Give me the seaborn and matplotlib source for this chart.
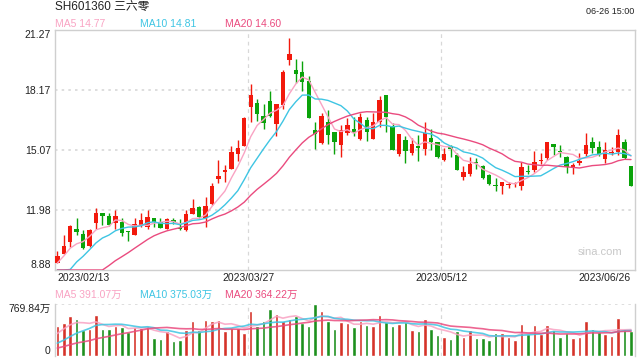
import numpy as np
import pandas as pd
import matplotlib
matplotlib.use("Agg")
import matplotlib.pyplot as plt
import seaborn as sns

# SH601360 daily k-line, 2023-02-13 .. 2023-06-26
title = "SH601360 三六零"
stamp = "06-26 15:00"

opens = [9.26, 9.71, 10.33, 10.98, 10.74, 10.12, 11.32, 11.82, 11.67, 11.32,
         11.37, 10.89, 10.70, 11.15, 11.12, 11.55, 11.36, 11.00, 11.44, 11.01,
         10.93, 11.79, 12.11, 11.55, 12.29, 13.60, 13.96, 14.11, 14.87, 15.28,
         17.31, 17.50, 16.83, 17.59, 16.43, 17.38, 19.72, 19.20, 19.10, 18.65,
         16.12, 15.42, 16.54, 16.00, 15.35, 15.94, 16.16, 15.64, 16.62, 15.66,
         16.52, 17.91, 16.33, 14.89, 15.59, 14.92, 15.28, 15.14, 15.69, 15.51,
         14.56, 15.23, 14.82, 13.70, 13.85, 14.47, 14.27, 13.78, 13.27, 13.23,
         13.27, 13.30, 13.23, 13.99, 14.03, 14.51, 14.64, 15.38, 15.02, 14.71,
         14.21, 14.42, 14.89, 15.49, 15.23, 14.63, 14.92, 14.95, 15.47, 14.25]
highs = [9.88, 10.69, 11.20, 11.58, 10.94, 11.01, 12.10, 11.82, 11.82, 11.98,
         11.55, 10.89, 11.58, 11.82, 11.98, 11.55, 11.55, 11.55, 11.55, 11.51,
         11.98, 12.55, 12.18, 12.67, 13.35, 14.56, 14.30, 15.28, 15.59, 16.76,
         18.48, 17.71, 17.45, 18.12, 17.45, 19.20, 20.86, 19.76, 19.69, 18.90,
         16.52, 16.99, 17.14, 16.00, 16.35, 16.73, 16.76, 17.00, 16.76, 16.97,
         17.88, 17.91, 16.49, 15.90, 15.80, 15.71, 15.85, 16.50, 16.18, 15.51,
         15.16, 15.33, 14.90, 14.23, 14.73, 14.64, 14.30, 13.84, 13.63, 13.44,
         13.44, 13.44, 14.47, 14.30, 15.01, 14.90, 15.51, 15.40, 15.33, 14.77,
         14.39, 14.90, 15.97, 15.75, 15.54, 15.47, 15.25, 16.16, 15.64, 14.25]
lows = [9.22, 9.71, 10.08, 10.70, 9.96, 10.05, 11.00, 11.20, 11.15, 11.01,
        10.64, 10.38, 10.67, 11.12, 11.00, 11.12, 11.05, 10.98, 11.25, 10.96,
        10.89, 11.79, 11.55, 11.08, 12.24, 13.35, 13.44, 14.08, 14.52, 15.28,
        16.54, 16.59, 16.14, 16.76, 15.82, 17.17, 19.46, 18.52, 18.14, 16.74,
        15.14, 15.37, 15.37, 14.87, 14.73, 15.85, 15.80, 15.59, 15.54, 15.66,
        16.26, 16.02, 15.09, 14.77, 14.42, 14.82, 14.52, 14.82, 15.07, 14.68,
        14.51, 14.70, 14.04, 13.54, 13.75, 14.11, 13.56, 13.29, 12.98, 12.80,
        13.10, 13.15, 13.01, 13.84, 13.96, 14.35, 14.56, 14.82, 14.73, 13.87,
        13.84, 14.30, 14.77, 14.90, 14.77, 14.42, 14.82, 14.80, 14.59, 13.23]
closes = [9.60, 10.12, 11.15, 10.84, 10.02, 10.94, 11.82, 11.68, 11.20, 11.67,
          10.81, 10.82, 11.25, 11.44, 11.60, 11.37, 11.07, 11.50, 11.36, 10.98,
          11.77, 12.06, 11.60, 12.18, 13.22, 13.73, 14.04, 14.97, 15.18, 16.71,
          17.91, 16.95, 16.49, 16.83, 17.45, 19.10, 20.03, 19.02, 18.60, 16.74,
          15.88, 16.85, 15.83, 15.49, 16.09, 16.35, 15.94, 16.76, 16.02, 16.52,
          17.66, 16.76, 15.09, 15.90, 15.04, 15.38, 15.20, 15.95, 15.51, 14.73,
          14.87, 15.11, 14.06, 13.94, 14.35, 14.40, 13.65, 13.32, 13.20, 13.42,
          13.32, 13.35, 14.21, 13.94, 14.46, 14.56, 15.49, 15.25, 14.97, 14.21,
          14.30, 14.51, 15.33, 15.16, 14.82, 15.06, 14.99, 15.85, 14.64, 13.23]
# volume, 万股
volumes = [446.5, 492.7, 585.1, 554.3, 384.9, 400.3, 600.5, 400.3, 400.3, 446.5,
           431.1, 354.1, 431.1, 415.7, 446.5, 261.7, 246.4, 369.5, 215.6, 231.0,
           384.9, 523.5, 384.9, 538.9, 523.5, 538.9, 369.5, 415.7, 415.7, 338.7,
           662.1, 446.5, 523.5, 692.9, 615.9, 523.5, 554.3, 585.1, 492.7, 446.5,
           769.84, 662.1, 523.5, 400.3, 508.1, 492.7, 431.1, 523.5, 461.9, 446.5,
           600.5, 508.1, 446.5, 477.3, 508.1, 384.9, 369.5, 554.3, 400.3, 307.9,
           277.1, 246.4, 369.5, 277.1, 384.9, 261.7, 261.7, 231.0, 338.7, 338.7,
           277.1, 231.0, 477.3, 323.3, 461.9, 323.3, 461.9, 384.9, 277.1, 338.7,
           261.7, 277.1, 523.5, 400.3, 354.1, 323.3, 292.5, 569.7, 400.3, 369.5]

# sessions before the window, only used to seed the moving averages
prior_closes = [6.50, 6.55, 6.48, 6.52, 6.50, 6.45, 6.50, 6.60, 6.65, 6.70,
                6.60, 6.65, 6.95, 7.10, 7.55, 8.31, 9.14, 9.70, 9.45]
prior_volumes = [46, 46, 46, 46, 46, 46, 46, 46, 46, 46,
                 47, 47, 47, 47, 47, 150, 280, 390, 400]

date_ticks = [0, 30, 60, 89]
date_labels = ["2023/02/13", "2023/03/27", "2023/05/12", "2023/06/26"]
price_ticks = [8.88, 11.98, 15.07, 18.17, 21.27]
vol_top = 769.84
ma_windows = [5, 10, 20]
ma_labels = ["MA5 14.77", "MA10 14.81", "MA20 14.60"]
vol_ma_labels = ["MA5 391.07万", "MA10 375.03万", "MA20 364.22万"]

ma_colors = ["#f9a3c3", "#3ec5e3", "#ea4b7f"]
up_color = "#f2190c"
down_color = "#0aa30a"
grid_color = "#d8d8d8"
frame_color = "#cfcfcf"

df = pd.DataFrame({"open": opens, "high": highs, "low": lows,
                   "close": closes, "volume": volumes})
df["idx"] = np.arange(len(df))
df["dir"] = np.where(df["close"] >= df["open"], "up", "down")

n_prior = len(prior_closes)
all_close = pd.Series(prior_closes + closes)
all_vol = pd.Series(prior_volumes + volumes)
for w in ma_windows:
    df[f"ma{w}"] = all_close.rolling(w).mean().iloc[n_prior:].to_numpy()
    df[f"vma{w}"] = all_vol.rolling(w).mean().iloc[n_prior:].to_numpy()

sns.set_style("white")
plt.rcParams["font.family"] = ["Liberation Sans", "Noto Sans CJK SC", "DejaVu Sans"]

fig = plt.figure(figsize=(6.4, 3.6), dpi=100)
ax = fig.add_axes([55 / 640, 90 / 360, 580 / 640, 240 / 360])
vax = fig.add_axes([55 / 640, 4 / 360, 580 / 640, 52 / 360])

xlim = (-0.36, len(df) - 1 + 0.62)
tick_shift = -0.4
ymin, ymax = price_ticks[0], price_ticks[-1]

# --- price panel ---
for y in price_ticks[1:-1]:
    ax.axhline(y, color=grid_color, lw=1.2, ls=(0, (1.5, 2.5)), zorder=0)
for t in date_ticks[1:-1]:
    ax.axvline(t + tick_shift, color=grid_color, lw=0.9, ls=(0, (3, 3)), zorder=0)
    vax.axvline(t + tick_shift, color=grid_color, lw=0.9, ls=(0, (3, 3)), zorder=0)

colors = np.where(df["dir"] == "up", up_color, down_color)
ax.vlines(df["idx"], df["low"], df["high"], colors=colors, lw=1, zorder=2)
body_lo = np.minimum(df["open"], df["close"])
body_h = np.maximum((df["close"] - df["open"]).abs(), 0.05)
ax.bar(df["idx"], body_h, bottom=body_lo, width=0.68, color=colors, lw=0, zorder=3)

for w, c in zip(ma_windows, ma_colors):
    sns.lineplot(x=df["idx"], y=df[f"ma{w}"].clip(lower=ymin), ax=ax,
                 color=c, lw=1, zorder=4)

ax.set_xlim(*xlim)
ax.set_ylim(ymin, ymax)
ax.set_yticks(price_ticks)
ax.set_yticklabels([f"{v:.2f}" for v in price_ticks])
ylabs = ax.get_yticklabels()
ylabs[0].set_va("bottom")
ylabs[-1].set_va("top")
ax.set_xticks([t + tick_shift if 0 < i < len(date_ticks) - 1 else t
               for i, t in enumerate(date_ticks)])
ax.set_xticklabels(date_labels)
xlabs = ax.get_xticklabels()
xlabs[0].set_ha("left")
xlabs[-1].set_ha("right")
ax.tick_params(axis="both", length=0, labelsize=7.5, colors="#222222")
ax.tick_params(axis="y", pad=3)
ax.tick_params(axis="x", pad=2)
ax.set_xlabel("")
ax.set_ylabel("")
for s in ax.spines.values():
    s.set_color(frame_color)
    s.set_linewidth(1)

ax.text(0.94, 0.075, "sina.com", transform=ax.transAxes, ha="center", va="center",
        fontsize=8, color="#c8c8c8")

# --- volume panel ---
sns.barplot(data=df, x="idx", y="volume", hue="dir", native_scale=True,
            palette={"up": up_color, "down": down_color}, dodge=False,
            width=0.55, errorbar=None, legend=False, ax=vax, zorder=2)
for w, c in zip(ma_windows, ma_colors):
    sns.lineplot(x=df["idx"], y=df[f"vma{w}"], ax=vax, color=c, lw=1.2,
                 alpha=0.85, zorder=4)
vax.axhline(vol_top, color=grid_color, lw=1.2, ls=(0, (1.5, 2.5)), zorder=0)
vax.set_xlim(*xlim)
vax.set_ylim(0, vol_top)
vax.set_xticks([])
vax.set_yticks([0, vol_top])
vax.set_yticklabels(["0", "769.84万"])
vlabs = vax.get_yticklabels()
vlabs[0].set_va("bottom")
vlabs[1].set_va("top")
vax.tick_params(axis="y", length=0, labelsize=7.5, colors="#222222", pad=3)
vax.set_xlabel("")
vax.set_ylabel("")
vax.spines["top"].set_visible(False)
vax.spines["bottom"].set_visible(False)
for side in ["left", "right"]:
    vax.spines[side].set_color(frame_color)
    vax.spines[side].set_linewidth(1)

# --- header texts ---
fig.text(55 / 640, 1 - 7.5 / 360, title, ha="left", va="center",
         fontsize=8.5, color="#222222")
fig.text(634 / 640, 1 - 11.3 / 360, stamp, ha="right", va="center",
         fontsize=6.5, color="#222222")
for xpix, lab, c in zip([55, 140, 225], ma_labels, ma_colors):
    fig.text(xpix / 640, 1 - 23.8 / 360, lab, ha="left", va="center",
             fontsize=7.5, color=c)
for xpix, lab, c in zip([55, 140, 225], vol_ma_labels, ma_colors):
    fig.text(xpix / 640, 1 - 295 / 360, lab, ha="left", va="center",
             fontsize=7.5, color=c)

fig.savefig("out.png", dpi=100)
